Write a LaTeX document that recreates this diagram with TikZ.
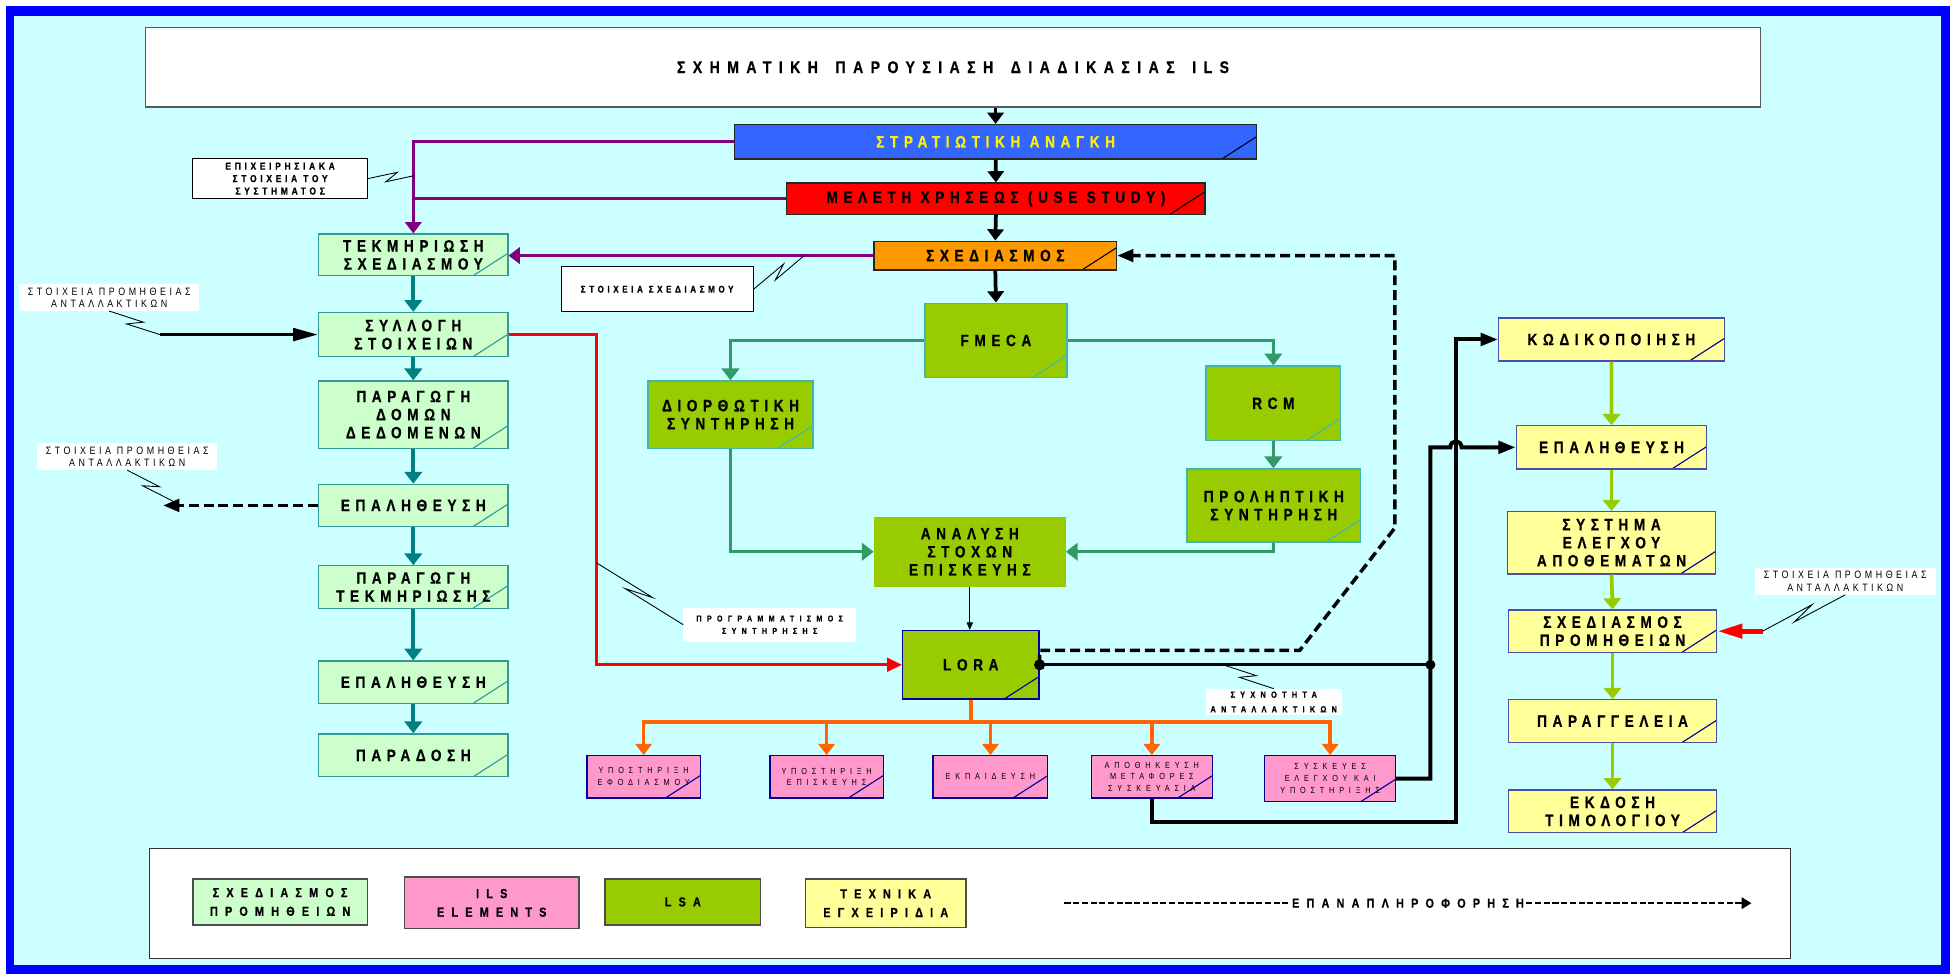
\documentclass[tikz,border=0pt]{standalone}
\usepackage{fontspec}
\setmainfont{Liberation Sans}
\newfontfamily\nf[FakeStretch=0.83]{Liberation Sans}
\newfontfamily\nfb[FakeStretch=0.83,FakeBold=0.6]{Liberation Sans Bold}
\usetikzlibrary{arrows.meta,calc}

\definecolor{bgc}{HTML}{CCFFFF}
\definecolor{frameb}{HTML}{0000FF}
\definecolor{lgreen}{HTML}{CCFFCC}
\definecolor{tealc}{HTML}{008080}
\definecolor{tealb}{HTML}{339999}
\definecolor{purp}{HTML}{800080}
\definecolor{stratb}{HTML}{3366FF}
\definecolor{orng}{HTML}{FF9900}
\definecolor{lsa}{HTML}{99CC00}
\definecolor{lsab}{HTML}{40B8A8}
\definecolor{seag}{HTML}{339966}
\definecolor{orl}{HTML}{FF6600}
\definecolor{pinkc}{HTML}{FF99CC}
\definecolor{navy}{HTML}{000099}
\definecolor{yel}{HTML}{FFFF99}
\definecolor{yelb}{HTML}{4D4DA6}
\definecolor{ygreen}{HTML}{99CC00}

% text faces
\newcommand\txtA{\nfb\fontsize{13.2}{14.5}\selectfont\addfontfeature{LetterSpace=34}}
\newcommand\txtT{\nfb\fontsize{13.6}{15}\selectfont\addfontfeature{LetterSpace=44}}
\newcommand\txtP{\nf\fontsize{7.1}{9.5}\selectfont\addfontfeature{LetterSpace=54}}
\newcommand\txtN{\nfb\fontsize{8.2}{10}\selectfont\addfontfeature{LetterSpace=36}}
\newcommand\txtM{\nfb\fontsize{7.8}{10}\selectfont\addfontfeature{LetterSpace=37}}
\newcommand\txtR{\nf\fontsize{8.6}{10}\selectfont\addfontfeature{LetterSpace=33}}
\newcommand\txtS{\nfb\fontsize{6.9}{10}\selectfont\addfontfeature{LetterSpace=62}}
\newcommand\txtY{\nfb\fontsize{7.2}{11.8}\selectfont\addfontfeature{LetterSpace=58}}
\newcommand\txtL{\nfb\fontsize{10.5}{15}\selectfont\addfontfeature{LetterSpace=55}}
\newcommand\wgap{\hspace{5pt}}

\begin{document}
\begin{tikzpicture}[x=1pt,y=-1pt,
  every node/.style={inner sep=0pt, align=center},
  cdiag/.style={path picture={\draw[line width=0.9pt,#1] ([xshift=-28pt]path picture bounding box.south east) -- ([yshift=18pt]path picture bounding box.south east);}},
  gbox/.style={draw=tealb, fill=lgreen, line width=1pt, cdiag=tealb, font=\txtA},
  lbox/.style={draw=lsab, fill=lsa, line width=1pt, cdiag=lsab, font=\txtA},
  ybox/.style={draw=yelb, fill=yel, line width=1pt, cdiag=navy, font=\txtA},
  pbox/.style={draw=navy, fill=pinkc, line width=0.9pt, cdiag=navy, font=\txtP},
  kbox/.style={draw=black!85, line width=1pt, cdiag=black, font=\txtA},
  notebox/.style={draw=black, fill=white, line width=0.8pt},
  notefree/.style={fill=white},
  legbox/.style={draw=black!70, line width=1pt, font=\txtL},
  zz/.style={to path={-- ($(\tikztostart)!0.64!(\tikztotarget)!3.5pt!90:(\tikztotarget)$) -- ($(\tikztostart)!0.38!(\tikztotarget)!3.5pt!-90:(\tikztotarget)$) -- (\tikztotarget)}},
  lead/.style={draw=black, line width=0.7pt, zz},
  blkarr/.style={draw=black, line width=3pt, -{Triangle[width=13pt,length=9pt]}},
  tealarr/.style={draw=tealc, line width=3.5pt, -{Triangle[width=14pt,length=9.5pt]}},
  purline/.style={draw=purp, line width=2.5pt},
  purarr/.style={purline, -{Triangle[width=13pt,length=9pt]}},
  grnarr/.style={draw=seag, line width=2.6pt, -{Triangle[width=14pt,length=9.5pt]}},
  orline/.style={draw=orl, line width=3pt},
  orarr/.style={orline, -{Triangle[width=13pt,length=9pt]}},
  yarr/.style={draw=ygreen, line width=3pt, -{Triangle[width=14pt,length=9pt]}},
  redarr/.style={draw=red, line width=2.5pt, -{Triangle[width=11pt,length=12pt]}},
  wire/.style={draw=black, line width=3.2pt},
  wirearr/.style={wire, -{Triangle[width=10pt,length=14pt]}},
  fbarr/.style={draw=black, line width=2.8pt, dash pattern=on 8pt off 4pt, -{Triangle[width=10pt,length=13pt]}},
  legfb/.style={draw=black, line width=2pt, dash pattern=on 5pt off 2pt, -{Triangle[width=9pt,length=8pt]}},
]
\useasboundingbox (0,0) rectangle (1568,782);
% page, frame and background
\fill[white] (0,0) rectangle (1568,782);
\fill[frameb] (4.5,5) rectangle (1566,782);
\fill[bgc] (11.5,12.5) rectangle (1559,775);

% title
\node[draw=black!65, fill=white, line width=1.2pt, minimum width=1297pt, minimum height=64pt, font=\txtT] (title) at (765.5,54) {ΣΧΗΜΑΤΙΚΗ\wgap{} ΠΑΡΟΥΣΙΑΣΗ\wgap{} ΔΙΑΔΙΚΑΣΙΑΣ\wgap{} ILS};

% central spine
\node[kbox, fill=stratb, text=yellow, minimum width=419.5pt, minimum height=27.7pt] (strat) at (799.75,113.85) {ΣΤΡΑΤΙΩΤΙΚΗ ΑΝΑΓΚΗ};
\node[kbox, fill=red, minimum width=336pt, minimum height=25pt] (mel) at (800,159.5) {ΜΕΛΕΤΗ ΧΡΗΣΕΩΣ (USE STUDY)};
\node[kbox, fill=orng, minimum width=195pt, minimum height=23.2pt] (sxed) at (799.5,205.3) {ΣΧΕΔΙΑΣΜΟΣ};
\node[lbox, minimum width=114pt, minimum height=60pt] (fmeca) at (800,273.5) {FMECA};

% left column
\node[gbox, minimum width=152pt, minimum height=33.5pt] (tek) at (332,204.75) {ΤΕΚΜΗΡΙΩΣΗ\\ΣΧΕΔΙΑΣΜΟΥ};
\node[gbox, minimum width=152pt, minimum height=35.5pt] (syl) at (332,268.75) {ΣΥΛΛΟΓΗ\\ΣΤΟΙΧΕΙΩΝ};
\node[gbox, minimum width=152pt, minimum height=54pt] (par) at (332,333) {ΠΑΡΑΓΩΓΗ\\ΔΟΜΩΝ\\ΔΕΔΟΜΕΝΩΝ};
\node[gbox, minimum width=152pt, minimum height=34pt] (ep1) at (332,406) {ΕΠΑΛΗΘΕΥΣΗ};
\node[gbox, minimum width=152pt, minimum height=34pt] (part) at (332,471.5) {ΠΑΡΑΓΩΓΗ\\ΤΕΚΜΗΡΙΩΣΗΣ};
\node[gbox, minimum width=152pt, minimum height=34pt] (ep2) at (332,548) {ΕΠΑΛΗΘΕΥΣΗ};
\node[gbox, minimum width=152pt, minimum height=34.5pt] (parad) at (332,606.75) {ΠΑΡΑΔΟΣΗ};

% analysis block
\node[lbox, minimum width=132.4pt, minimum height=54pt] (dior) at (586.8,333) {ΔΙΟΡΘΩΤΙΚΗ\\ΣΥΝΤΗΡΗΣΗ};
\node[lbox, minimum width=108.3pt, minimum height=60pt] (rcm) at (1022.85,324) {RCM};
\node[lbox, minimum width=139.5pt, minimum height=58.7pt] (prol) at (1023.25,406) {ΠΡΟΛΗΠΤΙΚΗ\\ΣΥΝΤΗΡΗΣΗ};
\node[fill=lsa, font=\txtA, minimum width=154pt, minimum height=56.4pt] (anal) at (779,443.2) {ΑΝΑΛΥΣΗ\\ΣΤΟΧΩΝ\\ΕΠΙΣΚΕΥΗΣ};
\node[lbox, draw=navy, cdiag=navy, minimum width=109.6pt, minimum height=55pt] (lora) at (779.8,534) {LORA};

% ILS elements
\node[pbox, minimum width=91pt, minimum height=34pt] (p1) at (517,624) {ΥΠΟΣΤΗΡΙΞΗ\\ΕΦΟΔΙΑΣΜΟΥ};
\node[pbox, minimum width=91pt, minimum height=34pt] (p2) at (664,624) {ΥΠΟΣΤΗΡΙΞΗ\\ΕΠΙΣΚΕΥΗΣ};
\node[pbox, minimum width=92.3pt, minimum height=34pt] (p3) at (795.6,624) {ΕΚΠΑΙΔΕΥΣΗ};
\node[pbox, minimum width=97.5pt, minimum height=34pt] (p4) at (925.25,624) {ΑΠΟΘΗΚΕΥΣΗ\\ΜΕΤΑΦΟΡΕΣ\\ΣΥΣΚΕΥΑΣΙΑ};
\node[pbox, minimum width=105pt, minimum height=37pt] (p5) at (1068.5,625.5) {ΣΥΣΚΕΥΕΣ\\ΕΛΕΓΧΟΥ ΚΑΙ\\ΥΠΟΣΤΗΡΙΞΗΣ};

% right column
\node[ybox, minimum width=181.2pt, minimum height=34.6pt] (kod) at (1294.4,272.7) {ΚΩΔΙΚΟΠΟΙΗΣΗ};
\node[ybox, minimum width=153pt, minimum height=34.7pt] (epr) at (1294.5,359.35) {ΕΠΑΛΗΘΕΥΣΗ};
\node[ybox, minimum width=167pt, minimum height=50pt] (sys) at (1294.5,436) {ΣΥΣΤΗΜΑ\\ΕΛΕΓΧΟΥ\\ΑΠΟΘΕΜΑΤΩΝ};
\node[ybox, minimum width=167.4pt, minimum height=34pt] (sxp) at (1295.3,507) {ΣΧΕΔΙΑΣΜΟΣ\\ΠΡΟΜΗΘΕΙΩΝ};
\node[ybox, minimum width=167.4pt, minimum height=34.5pt] (parag) at (1295.3,579.25) {ΠΑΡΑΓΓΕΛΕΙΑ};
\node[ybox, minimum width=167.4pt, minimum height=34.5pt] (ekd) at (1295.3,651.75) {ΕΚΔΟΣΗ\\ΤΙΜΟΛΟΓΙΟΥ};

% notes
\node[notebox, font=\txtN, minimum width=140pt, minimum height=32pt] (cEpix) at (225,143.5) {ΕΠΙΧΕΙΡΗΣΙΑΚΑ\\ΣΤΟΙΧΕΙΑ ΤΟΥ\\ΣΥΣΤΗΜΑΤΟΣ};
\node[notebox, font=\txtM, minimum width=154.3pt, minimum height=36.6pt] (cSxed) at (527.85,232.3) {ΣΤΟΙΧΕΙΑ ΣΧΕΔΙΑΣΜΟΥ};
\node[notefree, font=\txtR, minimum width=144.6pt, minimum height=21.3pt] (cProm1) at (87.7,239) {ΣΤΟΙΧΕΙΑ ΠΡΟΜΗΘΕΙΑΣ\\ΑΝΤΑΛΛΑΚΤΙΚΩΝ};
\node[notefree, font=\txtR, minimum width=144.8pt, minimum height=21.5pt] (cProm2) at (102.2,366.75) {ΣΤΟΙΧΕΙΑ ΠΡΟΜΗΘΕΙΑΣ\\ΑΝΤΑΛΛΑΚΤΙΚΩΝ};
\node[notefree, font=\txtR, minimum width=145.1pt, minimum height=21.6pt] (cProm3) at (1482.25,466.8) {ΣΤΟΙΧΕΙΑ ΠΡΟΜΗΘΕΙΑΣ\\ΑΝΤΑΛΛΑΚΤΙΚΩΝ};
\node[notefree, font=\txtS, minimum width=138.5pt, minimum height=27.6pt] (cProg) at (618.25,501.8) {ΠΡΟΓΡΑΜΜΑΤΙΣΜΟΣ\\ΣΥΝΤΗΡΗΣΗΣ};
\node[notefree, font=\txtY, minimum width=108.9pt, minimum height=20.9pt] (cSyxn) at (1023.15,563.85) {ΣΥΧΝΟΤΗΤΑ\\ΑΝΤΑΛΛΑΚΤΙΚΩΝ};

% spine arrows
\draw[blkarr] (title.south -| strat.north) -- (strat.north);
\draw[blkarr] (strat.south) -- (mel.north);
\draw[blkarr] (mel.south) -- (sxed.north);
\draw[blkarr] (sxed.south) -- (fmeca.north);

% design documentation inputs
\draw[purarr] (strat.west) -| (tek.north);
\draw[purline] (mel.west) -- (mel.west -| tek.north);
\draw[purarr] (sxed.west) -- (sxed.west -| tek.east);

% left column flow
\foreach \a/\b in {tek/syl,syl/par,par/ep1,ep1/part,part/ep2,ep2/parad}
  \draw[tealarr] (\a.south) -- (\b.north);

% FMECA branches
\draw[grnarr] (fmeca.west) -| (dior.north);
\draw[grnarr] (fmeca.east) -| (rcm.north);
\draw[grnarr] (rcm.south) -- (rcm.south |- prol.north);
\draw[grnarr] (prol.south) |- (anal.east);
\draw[grnarr] (dior.south) |- (anal.west);
\draw[draw=black, line width=0.8pt, -{Triangle[width=5pt,length=6pt]}] (anal.south) -- (anal.south |- lora.north);

% maintenance planning line
\coordinate (rx) at (479,268.75);
\draw[redarr] (syl.east) -- (rx) |- (lora.west);

% LORA outputs
\coordinate (obus) at (779.8,580);
\draw[orline] (lora.south) -- (obus);
\draw[orline, line cap=rect] (obus -| p1.north) -- (obus -| p5.north);
\foreach \p in {p1,p2,p3,p4,p5}
  \draw[orarr] (obus -| \p.north) -- (\p.north);

% right column flow
\foreach \a/\b in {kod/epr,epr/sys,sys/sxp,sxp/parag,parag/ekd}
  \draw[yarr] (\a.south) -- (\b.north);
\coordinate (r3) at (1415.8,507);
\draw[draw=red, line width=4pt, -{Triangle[width=11pt,length=20pt]}] (r3) -- (sxp.east);

% spare parts inputs on the left
\coordinate (a1) at (128.4,268.75);
\draw[draw=black, line width=3pt, -{Triangle[width=10pt,length=20pt]}] (a1) -- (syl.west);
\coordinate (a2) at (131,406);
\draw[fbarr] (ep1.west) -- (a2);

% LORA wiring to the right column
\coordinate (jn) at (1149,534);
\coordinate (vB) at (1169.5,660);
\draw[wire, line width=2.4pt] (lora.east) -- (jn);
\draw[wirearr] (p5.east) -- (p5.east -| jn) -- (jn |- epr.west) -- ($(vB |- epr.west)+(-4.5,0)$) .. controls ($(vB |- epr.west)+(-4.5,-6.5)$) and ($(vB |- epr.west)+(4.5,-6.5)$) .. ($(vB |- epr.west)+(4.5,0)$) -- (epr.west);
\draw[wirearr] (p4.south) |- (vB) -- (vB |- kod.west) -- (kod.west);
\fill (lora.east) circle (4.5pt);
\fill (jn) circle (4pt);

% feedback to design
\coordinate (fb1) at (1044,522.5);
\coordinate (fb2) at (1120.5,424);
\draw[fbarr] (lora.east) -- (lora.east |- fb1) -- (fb1) -- (fb2) -- (fb2 |- sxed.east) -- (sxed.east);

% note leaders
\coordinate (z1) at (333,141);
\draw[lead] (cEpix.east) to (z1);
\coordinate (z2) at (646,205.3);
\draw[lead] (cSxed.east) to (z2);
\draw[lead] (cProm1.south) to (a1);
\coordinate (z3) at (139.8,403);
\draw[lead] (cProm2.south) to (z3);
\coordinate (z4) at (479,452);
\draw[lead] (cProg.west) to (z4);
\coordinate (z5) at (982.5,534);
\draw[lead] (cSyxn.north) to (z5);
\draw[lead] (cProm3.south) to (r3);

% legend
\node[draw=black!80, fill=white, line width=1pt, minimum width=1318.4pt, minimum height=88.4pt] (legend) at (779.2,725.6) {};
\node[legbox, fill=lgreen, minimum width=140pt, minimum height=37pt] (lg1) at (225,724.5) {ΣΧΕΔΙΑΣΜΟΣ\\ΠΡΟΜΗΘΕΙΩΝ};
\node[legbox, fill=pinkc, minimum width=140pt, minimum height=41.5pt] (lg2) at (395,725.25) {ILS\\ELEMENTS};
\node[legbox, fill=lsa, minimum width=125pt, minimum height=37pt] (lg3) at (548.5,724.5) {LSA};
\node[legbox, fill=yel, minimum width=129pt, minimum height=39pt] (lg4) at (711.5,725.5) {ΤΕΧΝΙΚΑ\\ΕΓΧΕΙΡΙΔΙΑ};
\coordinate (lgs) at (855,725.5);
\coordinate (lge) at (1407,725.5);
\draw[legfb] (lgs) -- (lge);
\node[fill=white, font=\txtL, inner xsep=1.5pt, inner ysep=2pt] (lgt) at (1131,725.5) {ΕΠΑΝΑΠΛΗΡΟΦΟΡΗΣΗ};
\end{tikzpicture}
\end{document}
